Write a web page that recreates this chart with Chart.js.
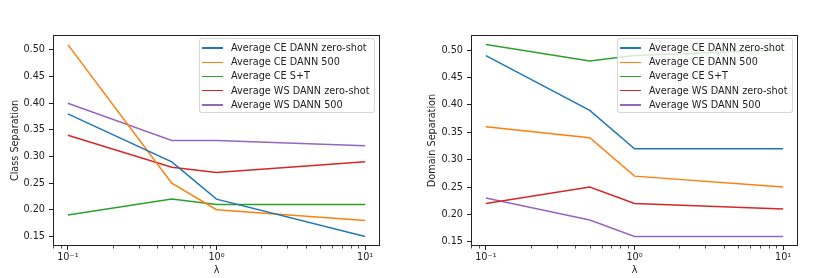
<!DOCTYPE html>
<html>
<head>
<meta charset="utf-8">
<script src="https://cdn.jsdelivr.net/npm/chart.js@4"></script>
<style>
  body { margin: 0; background: #fff; }
  #wrap { position: relative; width: 831px; height: 278px; font-family: 'DejaVu Sans', sans-serif; }
  #wrap canvas { position: absolute; top: 0; }
  .legend {
    position: absolute; box-sizing: border-box; width: 176px; padding-top: 2px;
    background: rgba(255,255,255,0.8); border: 1px solid rgba(204,204,204,0.8); border-radius: 3px;
    font-size: 9.7px; color: #222;
  }
  .legend .row { position: relative; height: 14.2px; line-height: 14.2px; padding-left: 31px; white-space: nowrap; }
  .legend .row span { position: absolute; left: 2px; top: 6.4px; width: 21px; height: 1.5px; }
</style>
</head>
<body>
<div id="wrap">
  <canvas id="classSep" width="415" height="278" style="left:0"></canvas>
  <canvas id="domainSep" width="416" height="278" style="left:415px"></canvas>
  <div class="legend" id="legendClass" style="left:199px; top:38px;"></div>
  <div class="legend" id="legendDomain" style="left:617px; top:38px;"></div>
</div>
<script>
// lambda values (x axis, log scale)
const lambdas = [0.1, 0.5, 1, 10];

const seriesNames = [
  'Average CE DANN zero-shot',
  'Average CE DANN 500',
  'Average CE S+T',
  'Average WS DANN zero-shot',
  'Average WS DANN 500'
];
const seriesColors = ['#1f77b4', '#ff7f0e', '#2ca02c', '#d62728', '#9467bd'];

// Class Separation (left)
const classCeZeroShot = [0.38, 0.29, 0.22, 0.15];
const classCe500 = [0.51, 0.25, 0.20, 0.18];
const classCeST = [0.19, 0.22, 0.21, 0.21];
const classWsZeroShot = [0.34, 0.28, 0.27, 0.29];
const classWs500 = [0.40, 0.33, 0.33, 0.32];

// Domain Separation (right)
const domainCeZeroShot = [0.49, 0.39, 0.32, 0.32];
const domainCe500 = [0.36, 0.34, 0.27, 0.25];
const domainCeST = [0.51, 0.48, 0.49, 0.50];
const domainWsZeroShot = [0.22, 0.25, 0.22, 0.21];
const domainWs500 = [0.23, 0.19, 0.16, 0.16];

// ticks
const yTicks = [0.15, 0.20, 0.25, 0.30, 0.35, 0.40, 0.45, 0.50];
const xMajorTicks = [0.1, 1, 10];
const xTickLabels = ['10\u207B\u00B9', '10\u2070', '10\u00B9'];
const xMinorTicks = [0.08, 0.09, 0.2, 0.3, 0.4, 0.5, 0.6, 0.7, 0.8, 0.9, 2, 3, 4, 5, 6, 7, 8, 9];

Chart.defaults.font.family = "'DejaVu Sans'";
Chart.defaults.font.size = 9.7;
Chart.defaults.color = '#222';

const frameAndMinorTicks = {
  id: 'frameAndMinorTicks',
  afterDraw(chart) {
    const { ctx, chartArea: a, scales } = chart;
    ctx.save();
    ctx.strokeStyle = '#222';
    ctx.lineWidth = 1;
    ctx.strokeRect(a.left + 0.5, a.top + 0.5, a.right - a.left - 1, a.bottom - a.top - 1);
    ctx.beginPath();
    xMinorTicks.forEach(v => {
      const x = Math.round(scales.x.getPixelForValue(v)) + 0.5;
      ctx.moveTo(x, a.bottom);
      ctx.lineTo(x, a.bottom + 2.5);
    });
    ctx.lineWidth = 0.8;
    ctx.stroke();
    ctx.restore();
  }
};

function makeChart(id, yLabel, seriesList, yMin, yMax, rightEdge, yWidth, titlePad) {
  const canvas = document.getElementById(id);
  const datasets = seriesList.map((vals, i) => ({
    label: seriesNames[i],
    data: lambdas.map((x, j) => ({ x: x, y: vals[j] })),
    borderColor: seriesColors[i],
    backgroundColor: seriesColors[i],
    borderWidth: 1.5,
    pointRadius: 0,
    tension: 0,
    fill: false
  }));
  return new Chart(canvas, {
    type: 'line',
    data: { datasets },
    plugins: [frameAndMinorTicks],
    options: {
      responsive: false,
      animation: false,
      layout: { padding: { top: 35, left: 0, right: canvas.width - rightEdge, bottom: 0 } },
      plugins: { legend: { display: false }, tooltip: { enabled: false } },
      scales: {
        x: {
          type: 'logarithmic',
          min: Math.pow(10, -1.1),
          max: Math.pow(10, 1.1),
          afterBuildTicks: s => {
            s.ticks = xMajorTicks.concat(xMinorTicks).sort((a, b) => a - b)
              .map(v => ({ value: v, major: xMajorTicks.includes(v) }));
          },
          afterFit: s => { s.height = 32; },
          ticks: {
            autoSkip: false, maxRotation: 0, padding: 2,
            callback: v => { const i = xMajorTicks.indexOf(v); return i >= 0 ? xTickLabels[i] : ''; }
          },
          grid: {
            drawOnChartArea: false, tickLength: 4,
            tickColor: c => (c.tick && c.tick.major) ? '#222' : 'rgba(0,0,0,0)'
          },
          border: { display: false },
          title: { display: true, text: 'λ', padding: { top: 0, bottom: 2 } }
        },
        y: {
          min: yMin, max: yMax,
          afterBuildTicks: s => { s.ticks = yTicks.map(v => ({ value: v })); },
          afterFit: s => { s.width = yWidth; },
          ticks: { padding: 4, callback: v => v.toFixed(2) },
          grid: { drawOnChartArea: false, tickLength: 4, tickColor: '#222' },
          border: { display: false },
          title: { display: true, text: yLabel, padding: { top: titlePad, bottom: 0 } }
        }
      }
    }
  });
}

makeChart('classSep', 'Class Separation',
  [classCeZeroShot, classCe500, classCeST, classWsZeroShot, classWs500],
  0.132, 0.528, 380, 53, 9.2);
makeChart('domainSep', 'Domain Separation',
  [domainCeZeroShot, domainCe500, domainCeST, domainWsZeroShot, domainWs500],
  0.1425, 0.5275, 383, 56, 11.5);

function buildLegend(elId) {
  const el = document.getElementById(elId);
  seriesNames.forEach((name, i) => {
    const row = document.createElement('div');
    row.className = 'row';
    const handle = document.createElement('span');
    handle.style.background = seriesColors[i];
    row.appendChild(handle);
    row.appendChild(document.createTextNode(name));
    el.appendChild(row);
  });
}
buildLegend('legendClass');
buildLegend('legendDomain');
</script>
</body>
</html>
